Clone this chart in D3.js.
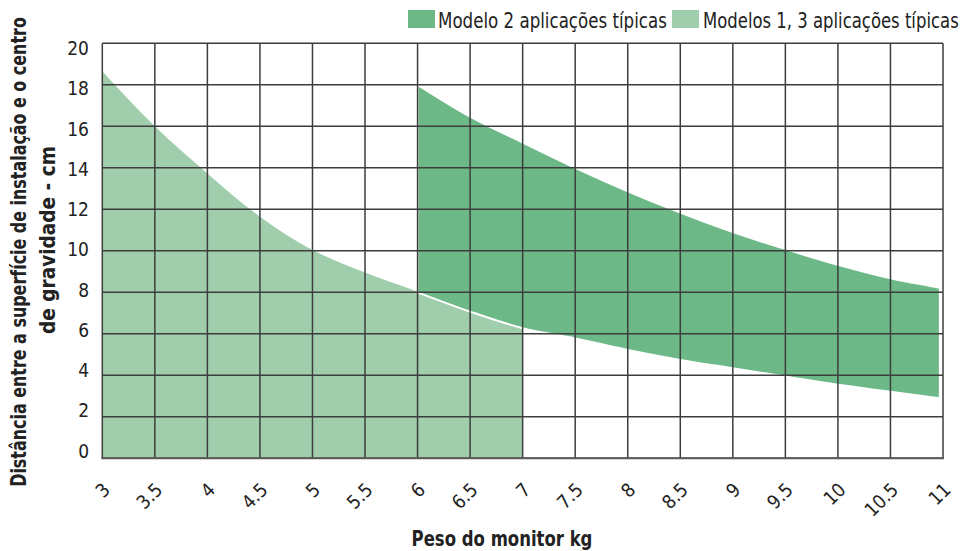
<!DOCTYPE html>
<html>
<head>
<meta charset="utf-8">
<script src="https://cdn.jsdelivr.net/npm/d3@7"></script>
<style>
  html, body { margin: 0; padding: 0; background: #ffffff; }
  svg { display: block; }
  text { font-family: "Liberation Sans Narrow", "DejaVu Sans Condensed", "DejaVu Sans", sans-serif; fill: #222222; }
</style>
</head>
<body>
<svg id="chart" width="962" height="551"></svg>
<script>
// ---- data ----
const xTicks = [3, 3.5, 4, 4.5, 5, 5.5, 6, 6.5, 7, 7.5, 8, 8.5, 9, 9.5, 10, 10.5, 11];
const xTickLabels = ["3", "3.5", "4", "4.5", "5", "5.5", "6", "6.5", "7", "7.5", "8", "8.5", "9", "9.5", "10", "10.5", "11"];
const yTicks = [0, 2, 4, 6, 8, 10, 12, 14, 16, 18, 20];
const yTickLabels = ["0", "2", "4", "6", "8", "10", "12", "14", "16", "18", "20"];

// Modelos 1, 3 (light) – upper boundary, lower boundary is 0
const lightX   = [3, 3.5, 4, 4.5, 5, 5.5, 6, 6.5, 7];
const lightTop = [18.65, 16.0, 13.73, 11.64, 10.04, 8.95, 8.03, 7.07, 6.25];

// Modelo 2 (dark) – band between two curves
const darkX      = [6, 6.5, 7, 7.5, 8, 8.5, 9, 9.5, 10, 10.5, 10.97];
const darkTop    = [18.0, 16.47, 15.22, 14.0, 12.87, 11.84, 10.9, 10.08, 9.32, 8.67, 8.22];
const darkBottom = [8.0, 7.07, 6.27, 5.78, 5.22, 4.74, 4.34, 3.94, 3.54, 3.21, 2.89];

const legendLabels = ["Modelo 2 aplicações típicas", "Modelos 1, 3 aplicações típicas"];
const xTitle = "Peso do monitor kg";
const yTitleLines = ["Distância entre a superfície de instalação e o centro", "de gravidade - cm"];

const darkColor = "#6db887";
const lightColor = "#a0cdab";

// ---- scales ----
const x = d3.scaleLinear().domain([3, 11]).range([102.3, 943]);
const y = d3.scaleLinear().domain([0, 20]).range([458.3, 43.3]);
const yLab = d3.scaleLinear().domain([0, 20]).range([450.5, 48]);

const svg = d3.select("#chart");

// squeeze a text horizontally (along its own direction) to a target length
function fitText(sel, tx, ty, rot, target) {
  const natural = sel.node().getComputedTextLength();
  const s = Math.min(1, target / natural);
  sel.attr("transform", `translate(${tx},${ty}) rotate(${rot}) scale(${s},1)`);
}

// ---- areas ----
const lightData = lightX.map((v, i) => ({ x: v, top: lightTop[i], bottom: 0 }));
const darkData = darkX.map((v, i) => ({ x: v, top: darkTop[i], bottom: darkBottom[i] }));

const area = d3.area()
  .x(d => x(d.x))
  .y0(d => y(d.bottom))
  .y1(d => y(d.top))
  .curve(d3.curveMonotoneX);

svg.append("path")
  .datum(lightData)
  .attr("d", area)
  .attr("fill", lightColor);

svg.append("path")
  .datum(darkData)
  .attr("d", area)
  .attr("fill", darkColor)
  .attr("stroke", "#ffffff")
  .attr("stroke-width", 2);

// ---- grid ----
const grid = svg.append("g");
grid.selectAll("line.v")
  .data(xTicks)
  .enter().append("line")
  .attr("x1", d => x(d)).attr("x2", d => x(d))
  .attr("y1", y(20)).attr("y2", y(0))
  .attr("stroke", "#3d3d3d").attr("stroke-width", 1.5);
grid.selectAll("line.h")
  .data(yTicks)
  .enter().append("line")
  .attr("x1", x(3)).attr("x2", x(11))
  .attr("y1", d => y(d)).attr("y2", d => y(d))
  .attr("stroke", "#3d3d3d").attr("stroke-width", 1.5);
svg.append("line")
  .attr("x1", x(3) - 1).attr("x2", x(11) + 1)
  .attr("y1", y(0)).attr("y2", y(0))
  .attr("stroke", "#5a5a5a").attr("stroke-width", 2);

// ---- tick labels ----
svg.append("g").selectAll("text")
  .data(yTicks)
  .enter().append("text")
  .attr("x", 89)
  .attr("y", d => yLab(d))
  .attr("text-anchor", "end")
  .attr("dominant-baseline", "central")
  .attr("font-size", 19)
  .text((d, i) => yTickLabels[i]);

svg.append("g").selectAll("text")
  .data(xTicks)
  .enter().append("text")
  .attr("transform", d => `translate(${x(d) + 4},486) rotate(-45)`)
  .attr("text-anchor", "end")
  .attr("dominant-baseline", "central")
  .attr("font-size", 19)
  .text((d, i) => xTickLabels[i]);

// ---- axis titles ----
const xt = svg.append("text")
  .attr("text-anchor", "middle")
  .attr("font-size", 21)
  .attr("font-weight", "bold")
  .text(xTitle);
fitText(xt, 502, 545.5, 0, 181);

const yt1 = svg.append("text")
  .attr("text-anchor", "middle")
  .attr("font-size", 22)
  .attr("font-weight", "bold")
  .text(yTitleLines[0]);
fitText(yt1, 26, 252, -90, 470);

const yt2 = svg.append("text")
  .attr("text-anchor", "middle")
  .attr("font-size", 22)
  .attr("font-weight", "bold")
  .text(yTitleLines[1]);
fitText(yt2, 55, 240, -90, 188);

// ---- legend ----
const legendItems = [
  { label: legendLabels[0], color: darkColor, bx: 408, tx: 438, len: 229 },
  { label: legendLabels[1], color: lightColor, bx: 672, tx: 703, len: 256 }
];
const lg = svg.append("g");
legendItems.forEach(it => {
  lg.append("rect")
    .attr("x", it.bx).attr("y", 10)
    .attr("width", 27).attr("height", 18)
    .attr("fill", it.color);
  const t = lg.append("text")
    .attr("font-size", 21)
    .text(it.label);
  fitText(t, it.tx, 28.3, 0, it.len);
});
</script>
</body>
</html>
